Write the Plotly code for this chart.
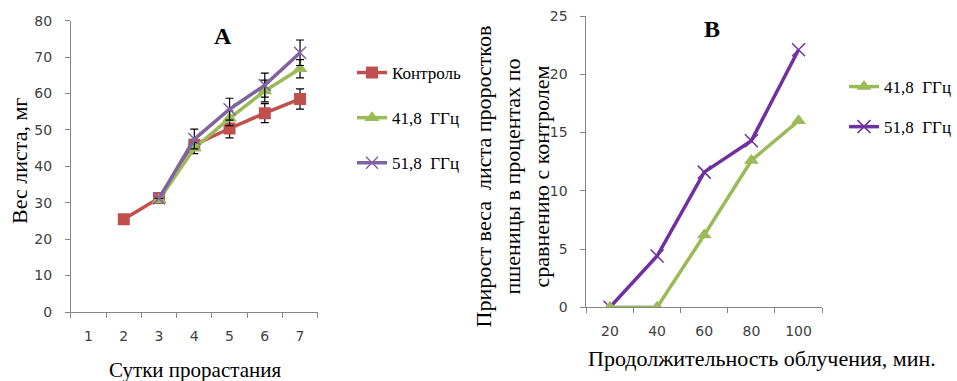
import plotly.graph_objects as go

# ---- Panel A data ----
days = ["1", "2", "3", "4", "5", "6", "7"]
control_x = ["2", "3", "4", "5", "6", "7"]
control_y = [25.5, 31.3, 45.9, 50.4, 54.6, 58.5]
control_err = [0, 0, 1.5, 2.6, 2.6, 2.8]
g418_x = ["3", "4", "5", "6", "7"]
g418_y = [30.8, 45.0, 53.2, 60.7, 66.8]
g418_err = [0, 1.5, 2.0, 3.0, 2.5]
g518_x = ["3", "4", "5", "6", "7"]
g518_y = [31.2, 47.5, 55.7, 62.3, 71.2]
g518_err = [0, 2.7, 3.0, 3.3, 3.5]

# ---- Panel B data ----
minutes = ["20", "40", "60", "80", "100"]
b418_y = [0, 0, 6.2, 12.6, 16.0]
b518_y = [0, 4.4, 11.6, 14.3, 22.1]

W, H = 957, 381
def px(x):
    return x / W
def py(y):
    return 1 - y / H

RED = "#C0504D"
GREEN_A = "#9BBB59"
PURPLE_A = "#8064A2"
GREEN_B = "#9BBB59"
PURPLE_B = "#7030A0"
SERIF = "Liberation Serif"
SANS = "DejaVu Sans"

fig = go.Figure()

err_style = dict(type="data", color="black", thickness=1.2, width=4)

fig.add_trace(go.Scatter(
    x=control_x, y=control_y, name="Контроль", mode="lines+markers",
    line=dict(color=RED, width=3.5),
    marker=dict(symbol="square", size=12, color=RED),
    error_y=dict(array=control_err, **err_style),
    xaxis="x", yaxis="y", legend="legend", legendgroup="a1", legendrank=1))
fig.add_trace(go.Scatter(
    x=g418_x, y=g418_y, name="41,8  ГГц", mode="lines+markers",
    line=dict(color=GREEN_A, width=3.5),
    marker=dict(symbol="triangle-up", size=13, color=GREEN_A),
    error_y=dict(array=g418_err, **err_style),
    xaxis="x", yaxis="y", legend="legend", legendgroup="a2", legendrank=2))
fig.add_trace(go.Scatter(
    x=g518_x, y=g518_y, name="51,8  ГГц", mode="lines+markers",
    line=dict(color=PURPLE_A, width=3.5),
    marker=dict(symbol="x-thin", size=12, line=dict(color=PURPLE_A, width=1.5)),
    error_y=dict(array=g518_err, **err_style),
    xaxis="x", yaxis="y", legend="legend", legendgroup="a3", legendrank=3))

fig.add_trace(go.Scatter(
    x=minutes, y=b518_y, name="51,8  ГГц", mode="lines+markers",
    line=dict(color=PURPLE_B, width=3.5),
    marker=dict(symbol="x-thin", size=13, line=dict(color=PURPLE_B, width=1.5)),
    xaxis="x2", yaxis="y2", legend="legend2", legendgroup="b2", legendrank=2))
fig.add_trace(go.Scatter(
    x=minutes, y=b418_y, name="41,8  ГГц", mode="lines+markers",
    line=dict(color=GREEN_B, width=3.5),
    marker=dict(symbol="triangle-up", size=13, color=GREEN_B),
    xaxis="x2", yaxis="y2", legend="legend2", legendgroup="b1", legendrank=1))

axis_common = dict(
    showline=True, linecolor="#868686", linewidth=1,
    ticks="outside", tickcolor="#868686", ticklen=5,
    showgrid=False, zeroline=False, automargin=False,
    tickfont=dict(family=SANS, size=14, color="#404040"),
)

def ann(text, x, y, size=21, angle=0):
    return dict(text=text, x=px(x), y=py(y), xref="paper", yref="paper",
                xanchor="center", yanchor="middle", showarrow=False,
                textangle=angle, font=dict(family=SERIF, size=size, color="black"))

fig.update_layout(
    width=W, height=H,
    margin=dict(l=0, r=0, t=0, b=0),
    paper_bgcolor="white", plot_bgcolor="white",
    xaxis=dict(domain=[px(71), px(318)], anchor="y", type="category",
               categoryorder="array", categoryarray=days, tickson="boundaries",
               range=[-0.5, 6.5], ticklabelstandoff=11, **axis_common),
    yaxis=dict(domain=[py(312), py(20.7)], anchor="x", range=[0, 80], dtick=10,
               ticklabelstandoff=10, **axis_common),
    xaxis2=dict(domain=[px(587), px(823)], anchor="y2", type="category",
                categoryorder="array", categoryarray=minutes, tickson="boundaries",
                range=[-0.5, 4.5], ticklabelstandoff=11, **axis_common),
    yaxis2=dict(domain=[py(307.3), py(16)], anchor="x2", range=[0, 25], dtick=5,
                ticklabelstandoff=10, **axis_common),
    legend=dict(x=px(352), y=py(55), xanchor="left", yanchor="top",
                font=dict(family=SERIF, size=17, color="black"),
                tracegroupgap=20, itemwidth=30, bgcolor="rgba(0,0,0,0)"),
    legend2=dict(x=px(845), y=py(69), xanchor="left", yanchor="top",
                 font=dict(family=SERIF, size=17, color="black"),
                 tracegroupgap=15, itemwidth=30, bgcolor="rgba(0,0,0,0)"),
    annotations=[
        ann("Сутки прорастания", 195, 370, 21),
        ann("Вес листа, мг", 19, 161, 22, -90),
        ann("Продолжительность облучения, мин.", 763, 358, 22),
        ann("Прирост веса  листа проростков<br>пшеницы в процентах по<br>сравнению с контролем",
            513, 176, 22, -90),
        ann("<b>A</b>", 223, 36, 24),
        ann("<b>B</b>", 713, 29, 24),
    ],
)

fig.write_html("out.html", config={"displayModeBar": False},
               post_script="document.body.style.margin='0';document.body.style.overflow='hidden';")
